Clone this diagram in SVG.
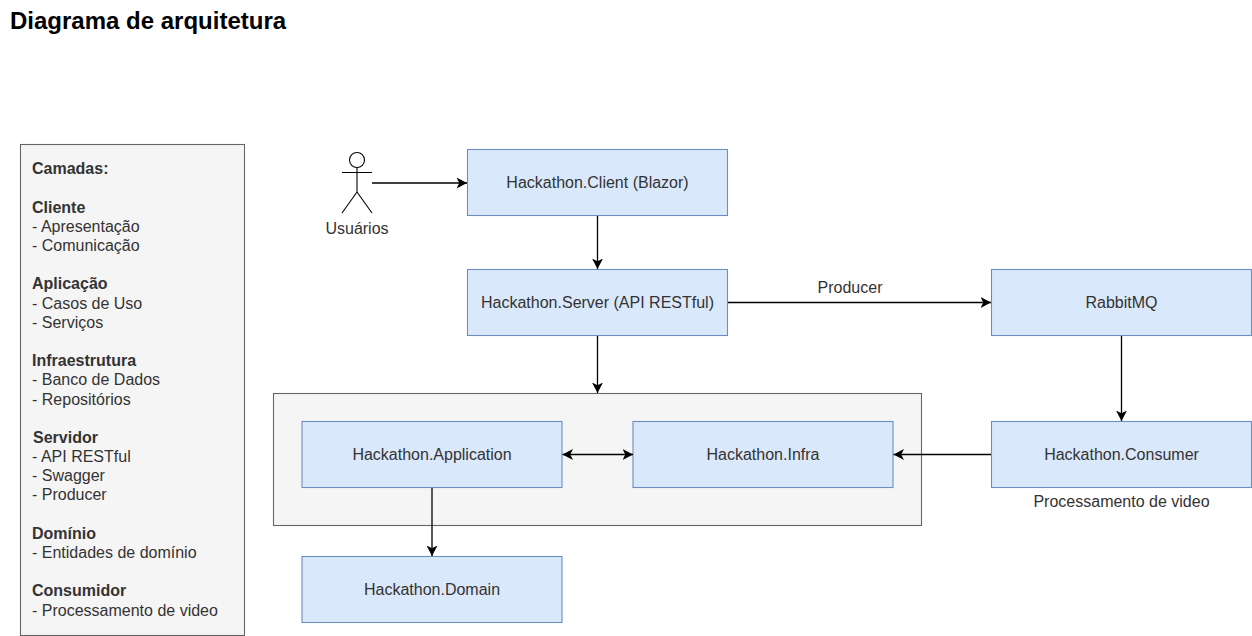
<svg xmlns="http://www.w3.org/2000/svg" width="1252" height="636" viewBox="0 0 1252 636">
<style>
text{font-family:"Liberation Sans",Arial,sans-serif;font-size:16px;fill:#333}
.n{fill:#dae8fc;stroke:#6c8ebf;stroke-width:1.1}
.g{fill:#f5f5f5;stroke:#666;stroke-width:1.1}
.c{text-anchor:middle}
.b{font-weight:bold}
.k{fill:none;stroke:#000;stroke-width:1.3}
.a{fill:none;stroke:#000;stroke-width:1.1}
</style>
<defs>
<marker id="ar" viewBox="0 0 11 11" refX="10.500" refY="5.500" markerWidth="11" markerHeight="11" markerUnits="userSpaceOnUse" orient="auto-start-reverse"><path d="M0 0L10.500 5.500L0 11L2.800 5.500Z" fill="#000"/></marker>
</defs>
<rect width="1252" height="636" fill="#fff"/>
<text x="10" y="29" class="b" style="font-size:24px;fill:#000">Diagrama de arquitetura</text>
<g id="legend">
<rect class="g" x="20.5" y="144.500" width="224" height="491"/>
<text x="32" y="174" class="b">Camadas:</text>
<text x="32" y="213" class="b">Cliente</text>
<text x="32" y="232">- Apresentação</text>
<text x="32" y="251">- Comunicação</text>
<text x="32" y="289" class="b">Aplicação</text>
<text x="32" y="309">- Casos de Uso</text>
<text x="32" y="328">- Serviços</text>
<text x="32" y="366" class="b">Infraestrutura</text>
<text x="32" y="385">- Banco de Dados</text>
<text x="32" y="405">- Repositórios</text>
<text x="33" y="443" class="b">Servidor</text>
<text x="32" y="462">- API RESTful</text>
<text x="32" y="481">- Swagger</text>
<text x="32" y="500">- Producer</text>
<text x="32" y="539" class="b">Domínio</text>
<text x="32" y="558">- Entidades de domínio</text>
<text x="32" y="596" class="b">Consumidor</text>
<text x="32" y="616">- Processamento de video</text>
</g>
<g id="container"><rect class="g" x="273.500" y="393.500" width="648" height="132"/></g>
<g id="actor">
<circle class="a" cx="357" cy="160" r="7.500" fill="#fff"/>
<path class="a" d="M357 167.500V192M342 172.500H372M357 192L342 213M357 192L372 213"/>
<text x="357" y="234" class="c">Usuários</text>
</g>
<g id="client"><rect class="n" x="467.500" y="149.500" width="260" height="66"/><text x="597.500" y="187.500" class="c">Hackathon.Client (Blazor)</text></g>
<g id="server"><rect class="n" x="467.500" y="269.500" width="260" height="66"/><text x="597.500" y="308" class="c">Hackathon.Server (API RESTful)</text></g>
<g id="rabbit"><rect class="n" x="991.500" y="269.500" width="260" height="66"/><text x="1121.500" y="308" class="c">RabbitMQ</text></g>
<g id="consumer"><rect class="n" x="991.500" y="421.500" width="260" height="66"/><text x="1121.500" y="460" class="c">Hackathon.Consumer</text><text x="1121.500" y="507" class="c">Processamento de video</text></g>
<g id="application"><rect class="n" x="302" y="421.500" width="260" height="66"/><text x="432" y="460" class="c">Hackathon.Application</text></g>
<g id="infra"><rect class="n" x="633" y="421.500" width="260" height="66"/><text x="763" y="460" class="c">Hackathon.Infra</text></g>
<g id="domain"><rect class="n" x="302" y="556.500" width="260" height="66"/><text x="432" y="595" class="c">Hackathon.Domain</text></g>
<g id="connectors">
<path class="k" marker-end="url(#ar)" d="M372 183H467"/>
<path class="k" marker-end="url(#ar)" d="M597.500 216V269"/>
<path class="k" marker-end="url(#ar)" d="M728 302.500H991"/>
<path class="k" marker-end="url(#ar)" d="M597.500 336V393"/>
<path class="k" marker-end="url(#ar)" d="M1121.500 336V421"/>
<path class="k" marker-end="url(#ar)" d="M991 454.500H893.500"/>
<path class="k" marker-start="url(#ar)" marker-end="url(#ar)" d="M562.500 454.500H633"/>
<path class="k" marker-end="url(#ar)" d="M432 488V556"/>
<text x="850" y="293" class="c">Producer</text>
</g>
</svg>
